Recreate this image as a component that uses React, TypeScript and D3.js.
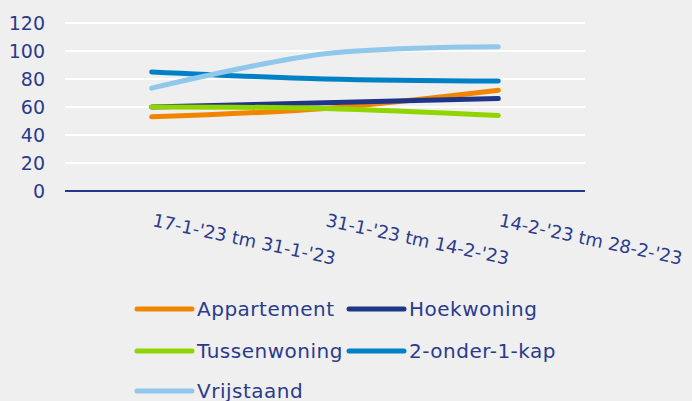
import React from 'react';
import * as d3 from 'd3';

const categories = ["17-1-'23 tm 31-1-'23", "31-1-'23 tm 14-2-'23", "14-2-'23 tm 28-2-'23"];
const seriesNames = ['Appartement', 'Hoekwoning', 'Tussenwoning', '2-onder-1-kap', 'Vrijstaand'];
const appartement = [53, 59, 72];
const hoekwoning = [60, 63, 66];
const tussenwoning = [60, 59, 54];
const tweeOnderEenKap = [85, 80, 78.5];
const vrijstaand = [73.5, 98, 103];
const yTicks = [0, 20, 40, 60, 80, 100, 120];

const seriesValues = [appartement, hoekwoning, tussenwoning, tweeOnderEenKap, vrijstaand];
const colors = ['#f28500', '#1f3586', '#92d400', '#0081c6', '#8fc8ea'];

const W = 692;
const H = 401;
const textColor = '#2b3b8c';
const font = '"DejaVu Sans", sans-serif';

const App: React.FC = () => {
  const x = d3.scaleBand<string>().domain(categories).range([65, 585]);
  const y = d3.scaleLinear().domain([0, 120]).range([191, 23]);
  const cx = (c: string) => (x(c) || 0) + x.bandwidth() / 2;

  const line = d3.line<number>()
    .x((_, i) => cx(categories[i]))
    .y(d => y(d))
    .curve(d3.curveCatmullRom.alpha(0));

  // legend slots, two per row
  const legendPos = [
    { x: 137, y: 309 }, { x: 349, y: 309 },
    { x: 137, y: 351 }, { x: 349, y: 351 },
    { x: 137, y: 391 },
  ];

  return (
    <svg width={W} height={H} viewBox={`0 0 ${W} ${H}`}
      style={{ position: 'absolute', left: 0, top: 0, background: '#efefef' }}>
      <rect x={0} y={0} width={W} height={H} fill="#efefef" />
      {yTicks.map(t => (
        <g key={t}>
          {t > 0 && <line x1={65} x2={585} y1={y(t)} y2={y(t)} stroke="#ffffff" strokeWidth={2} />}
          <text x={45} y={y(t)} dy="0.35em" textAnchor="end" fontFamily={font} fontSize={19} fill={textColor}>{t}</text>
        </g>
      ))}
      <line x1={65} x2={585} y1={y(0)} y2={y(0)} stroke="#24388a" strokeWidth={2} />
      {categories.map(c => (
        <text key={c} transform={`translate(${cx(c) + 3}, ${212}) rotate(12)`} dy="0.8em"
          fontFamily={font} fontSize={18} fill={textColor}>{c}</text>
      ))}
      {seriesValues.map((vals, i) => (
        <path key={seriesNames[i]} d={line(vals) || ''} fill="none" stroke={colors[i]}
          strokeWidth={5} strokeLinecap="round" />
      ))}
      {seriesNames.map((n, i) => (
        <g key={n}>
          <line x1={legendPos[i].x} x2={legendPos[i].x + 55} y1={legendPos[i].y} y2={legendPos[i].y}
            stroke={colors[i]} strokeWidth={5} strokeLinecap="round" />
          <text x={legendPos[i].x + 60} y={legendPos[i].y} dy="0.35em" fontFamily={font} fontSize={20}
            letterSpacing={0.5} fill={textColor}>{n}</text>
        </g>
      ))}
    </svg>
  );
};

export default App;
